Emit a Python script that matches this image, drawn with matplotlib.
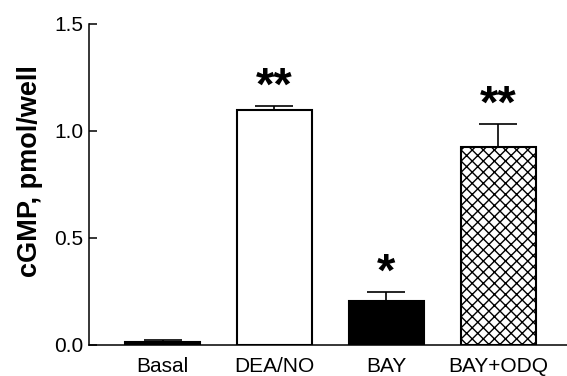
import numpy as np
import matplotlib
matplotlib.use("Agg")
import matplotlib.pyplot as plt

# cGMP accumulation per well, mean and SEM
groups = ["Basal", "DEA/NO", "BAY", "BAY+ODQ"]
cgmp = [0.011, 1.095, 0.204, 0.922]
sem = [0.010, 0.020, 0.040, 0.110]
signif = ["", "**", "*", "**"]

plt.rcParams['font.family'] = ['Liberation Sans', 'DejaVu Sans']
plt.rcParams['hatch.linewidth'] = 1.0

fig = plt.figure(figsize=(5.67, 3.76), dpi=100)
ax = fig.add_axes([0.157, 0.0832, 0.843, 0.854])

x = np.arange(len(groups))
faces = ["black", "white", "black", "white"]
hatches = [None, None, None, "xxx"]

# error bars first so the bar outline sits on top of the stem
ax.errorbar(x, cgmp, yerr=[np.zeros(len(sem)), sem], fmt="none",
            ecolor="black", elinewidth=1.2, capsize=13.5, capthick=1.2,
            zorder=1)
bars = ax.bar(x, cgmp, width=0.67, color=faces, edgecolor="black",
              linewidth=1.5, zorder=2)
for b, h in zip(bars, hatches):
    if h:
        b.set_hatch(h)

for xi, v, e, s in zip(x, cgmp, sem, signif):
    if s:
        ax.annotate(s, (xi, v + e), xytext=(0, -2.5), textcoords="offset points",
                    ha="center", va="bottom", fontsize=34, fontweight="bold")

ax.set_xlim(-0.657, 3.615)
ax.set_ylim(0, 1.5)
ax.set_yticks([0.0, 0.5, 1.0, 1.5])
ax.set_yticklabels(["0.0", "0.5", "1.0", "1.5"])
ax.set_xticks(x)
ax.set_xticklabels(groups)

ax.spines["top"].set_visible(False)
ax.spines["right"].set_visible(False)
ax.spines["left"].set_linewidth(1.1)
ax.spines["bottom"].set_linewidth(1.1)
ax.tick_params(axis="y", direction="in", length=5.5, width=1.1,
               pad=4, labelsize=15)
ax.tick_params(axis="x", length=0, pad=9, labelsize=15)

ax.set_ylabel("cGMP, pmol/well", fontsize=19.5, fontweight="bold")
ax.yaxis.set_label_coords(-0.096, 0.54)

fig.savefig("out.png", dpi=100)
